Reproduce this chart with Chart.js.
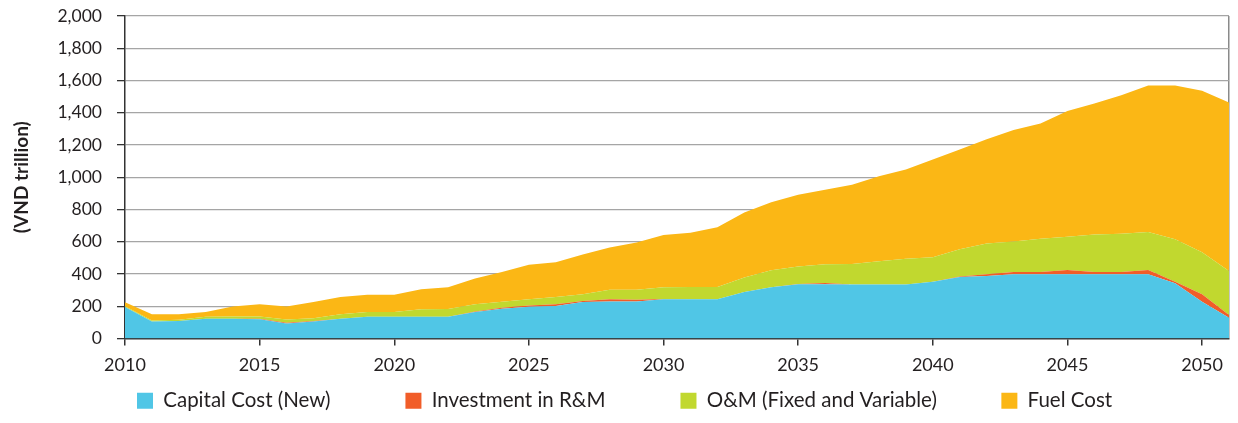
<!DOCTYPE html>
<html>
<head>
<meta charset="utf-8">
<script src="https://cdn.jsdelivr.net/npm/chart.js@4.4.1/dist/chart.umd.min.js"></script>
<style>
  html, body { margin: 0; padding: 0; background: #fff; }
  #wrap { width: 1238px; height: 423px; position: relative; }
</style>
</head>
<body>
<div id="wrap"><canvas id="c"></canvas></div>
<script>
const years = [2010,2011,2012,2013,2014,2015,2016,2017,2018,2019,2020,2021,2022,2023,2024,2025,2026,2027,2028,2029,2030,2031,2032,2033,2034,2035,2036,2037,2038,2039,2040,2041,2042,2043,2044,2045,2046,2047,2048,2049,2050,2051];

const capitalCost = [195,106,108,123,123,120,93,106,123,135,135,135,135,164,185,197,201,226,230,230,243,243,243,288,318,336,336,335,335,335,352,382,388,398,398,398,398,398,398,342,228,128];
const investmentRM = [0,0,0,0,0,2,5,2,0,0,0,0,0,3,5,7,12,6,13,10,2,0,0,0,0,2,8,0,0,0,0,3,10,15,15,27,15,15,27,10,46,17];
const omCost = [5,5,8,12,13,14,20,17,28,29,29,46,48,45,38,39,44,42,60,62,73,77,77,90,106,108,117,127,144,159,152,169,191,189,205,206,232,236,235,264,261,274];
const fuelCost = [25,39,34,29,63,76,80,101,106,108,108,124,135,160,185,214,216,247,262,293,324,336,370,403,421,446,462,492,527,554,606,618,646,691,716,780,812,860,909,953,1001,1044];

const seriesNames = ['Capital Cost (New)', 'Investment in R&M', 'O&M (Fixed and Variable)', 'Fuel Cost'];
const seriesColors = ['#50c6e6', '#f15d29', '#c1d82f', '#fbb715'];
const yTicks = [0,200,400,600,800,1000,1200,1400,1600,1800,2000];

const textColor = '#231f20';
const FONT = 'Lato';

const seriesData = [capitalCost, investmentRM, omCost, fuelCost];
const datasets = seriesData.map((d, i) => ({
  label: seriesNames[i],
  data: d,
  backgroundColor: seriesColors[i],
  borderColor: seriesColors[i],
  borderWidth: 0,
  pointRadius: 0,
  pointHoverRadius: 0,
  fill: i === 0 ? 'origin' : '-1',
  tension: 0
}));

const legendSpacer = [12, 12, 10, 0];

new Chart(document.getElementById('c'), {
  type: 'line',
  data: { labels: years, datasets },
  options: {
    responsive: true,
    maintainAspectRatio: false,
    animation: false,
    layout: { padding: { top: 16, right: 8, bottom: 2, left: 0 } },
    plugins: {
      tooltip: { enabled: false },
      legend: {
        position: 'bottom',
        fullSize: false,
        align: 'start',
        labels: {
          boxWidth: 16,
          boxHeight: 16,
          padding: 12,
          color: textColor,
          font: { family: FONT, size: 20.5 },
          generateLabels: (chart) => chart.data.datasets.map((ds, i) => ({
            text: ds.label + ' '.repeat(legendSpacer[i]),
            fillStyle: ds.backgroundColor,
            strokeStyle: ds.backgroundColor,
            lineWidth: 0,
            hidden: false,
            datasetIndex: i,
            fontColor: textColor
          }))
        }
      }
    },
    scales: {
      x: {
        type: 'category',
        offset: false,
        afterFit: (s) => { s.height = 40; },
        border: { display: true, color: '#333', width: 1.5 },
        grid: {
          display: true,
          drawOnChartArea: true,
          drawTicks: true,
          tickLength: 7,
          color: (ctx) => (ctx.index === years.length - 1 ? '#8a8a8a' : 'rgba(0,0,0,0)'),
          tickColor: (ctx) => (years[ctx.index] % 5 === 0 ? '#333' : 'rgba(0,0,0,0)'),
          lineWidth: 1.5
        },
        ticks: {
          autoSkip: false,
          maxRotation: 0,
          padding: 9,
          color: textColor,
          font: { family: FONT, size: 18 },
          callback: (v, i) => (years[i] % 5 === 0 ? String(years[i]) : '')
        }
      },
      y: {
        stacked: true,
        min: 0,
        max: 2000,
        afterFit: (s) => { s.width = 125; s.paddingTop = 10; s.paddingBottom = 0; },
        afterBuildTicks: (s) => { s.ticks = yTicks.map(v => ({ value: v })); },
        border: { display: true, color: '#333', width: 1.5 },
        grid: {
          color: (ctx) => (ctx.tick && ctx.tick.value === 0 ? 'rgba(0,0,0,0)' : '#a5a5a5'),
          tickColor: '#333',
          tickLength: 8,
          lineWidth: 1.3
        },
        ticks: {
          padding: 15,
          color: textColor,
          font: { family: FONT, size: 17.5 },
          callback: (v) => Number(v).toLocaleString('en-US')
        },
        title: {
          display: true,
          text: '(VND trillion)',
          color: textColor,
          font: { family: FONT, size: 19, weight: 'bold' },
          padding: { top: 10, bottom: 0 }
        }
      }
    }
  }
});
</script>
</body>
</html>
